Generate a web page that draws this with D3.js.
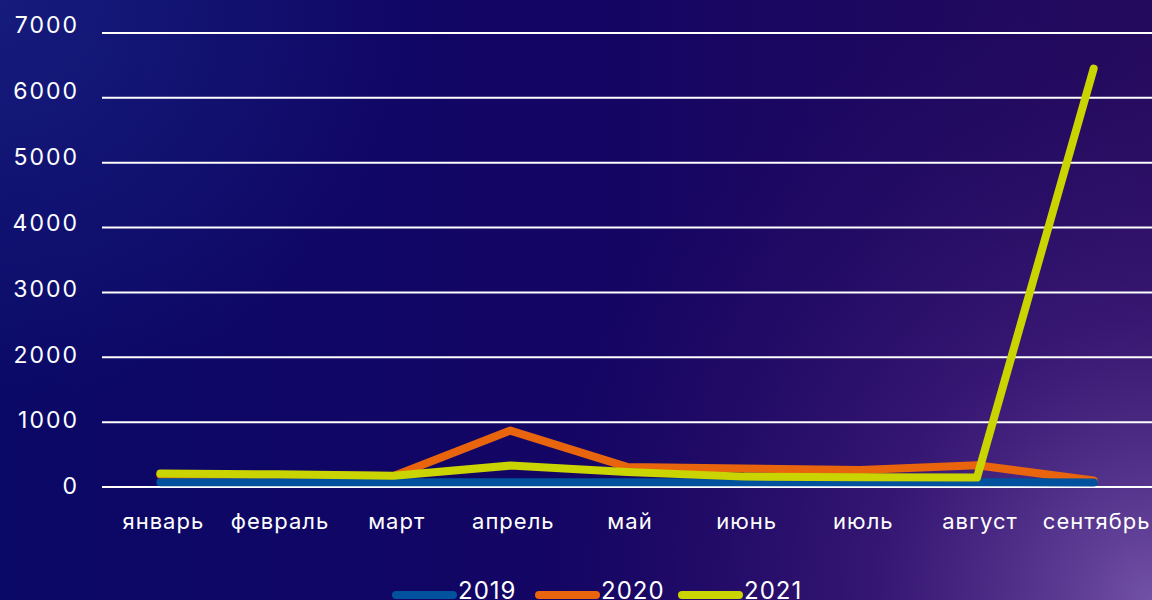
<!DOCTYPE html>
<html>
<head>
<meta charset="utf-8">
<script src="https://cdn.jsdelivr.net/npm/d3@7"></script>
<style>
  html, body { margin: 0; padding: 0; background: #0b0866; }
  svg { display: block; font-family: Inter, "Noto Sans", sans-serif; }
</style>
</head>
<body>
<div id="chart"></div>
<script>
// months on the x axis
const months = ["январь", "февраль", "март", "апрель", "май", "июнь", "июль", "август", "сентябрь"];
const yTicks = [0, 1000, 2000, 3000, 4000, 5000, 6000, 7000];

// values
const values2019 = [75, 75, 75, 75, 75, 75, 75, 75, 70];
const values2020 = [190, 180, 170, 870, 310, 285, 262, 335, 100];
const values2021 = [210, 195, 175, 330, 230, 160, 150, 145, 6450];

const years = ["2019", "2020", "2021"];
const colors = { "2019": "#00519e", "2020": "#e8640d", "2021": "#c9d400" };

const width = 1152, height = 600;
const margin = { top: 33, right: 0, bottom: 113, left: 102 };

const svg = d3.select("#chart").append("svg")
  .attr("width", width)
  .attr("height", height);

// background gradients
const defs = svg.append("defs");
const lin = defs.append("linearGradient").attr("id", "bg").attr("x1", "0").attr("y1", "0").attr("x2", "1").attr("y2", "0");
lin.append("stop").attr("offset", "0%").attr("stop-color", "#0a0866");
lin.append("stop").attr("offset", "50%").attr("stop-color", "#140564");
lin.append("stop").attr("offset", "100%").attr("stop-color", "#240a5c");

const glow = defs.append("radialGradient").attr("id", "glow")
  .attr("gradientUnits", "userSpaceOnUse")
  .attr("cx", width).attr("cy", height).attr("r", 620);
glow.append("stop").attr("offset", "0%").attr("stop-color", "#7252a6").attr("stop-opacity", 1);
glow.append("stop").attr("offset", "45%").attr("stop-color", "#452080").attr("stop-opacity", 0.6);
glow.append("stop").attr("offset", "100%").attr("stop-color", "#2a0d66").attr("stop-opacity", 0);

const corner = defs.append("radialGradient").attr("id", "corner")
  .attr("gradientUnits", "userSpaceOnUse")
  .attr("cx", 0).attr("cy", 0).attr("r", 420);
corner.append("stop").attr("offset", "0%").attr("stop-color", "#161c7c").attr("stop-opacity", 1);
corner.append("stop").attr("offset", "100%").attr("stop-color", "#161c7c").attr("stop-opacity", 0);

svg.append("rect").attr("width", width).attr("height", height).attr("fill", "url(#bg)");
svg.append("rect").attr("width", width).attr("height", height).attr("fill", "url(#corner)");
svg.append("rect").attr("width", width).attr("height", height).attr("fill", "url(#glow)");

// scales
const x = d3.scalePoint()
  .domain(months)
  .range([margin.left, width - margin.right])
  .padding(0.5);

const y = d3.scaleLinear()
  .domain([0, 7000])
  .range([height - margin.bottom, margin.top]);

// tick labels sit a little above the grid lines towards the top
const yLabel = d3.scaleLinear()
  .domain([0, 7000])
  .range([height - margin.bottom - 1, margin.top - 8]);

// grid lines
svg.append("g")
  .selectAll("line")
  .data(yTicks)
  .join("line")
  .attr("x1", margin.left)
  .attr("x2", width)
  .attr("y1", d => y(d))
  .attr("y2", d => y(d))
  .attr("stroke", "#ffffff")
  .attr("stroke-width", 2);

// y labels
svg.append("g")
  .selectAll("text")
  .data(yTicks)
  .join("text")
  .attr("x", 79)
  .attr("y", d => yLabel(d))
  .attr("dy", "0.36em")
  .attr("text-anchor", "end")
  .attr("fill", "#ffffff")
  .style("font-size", "23px")
  .style("letter-spacing", "2px")
  .text(d => d);

// x labels
svg.append("g")
  .selectAll("text")
  .data(months)
  .join("text")
  .attr("x", d => x(d) + 3)
  .attr("y", 529)
  .attr("text-anchor", "middle")
  .attr("fill", "#ffffff")
  .style("font-size", "22px")
  .style("letter-spacing", "1px")
  .text(d => d);

// lines
const line = d3.line()
  .x((d, i) => x(months[i]))
  .y(d => y(d));

const series = [
  { year: "2020", values: values2020 },
  { year: "2019", values: values2019 },
  { year: "2021", values: values2021 }
];

svg.append("g")
  .selectAll("path")
  .data(series)
  .join("path")
  .attr("d", d => line(d.values))
  .attr("fill", "none")
  .attr("stroke", d => colors[d.year])
  .attr("stroke-width", 8)
  .attr("stroke-linecap", "round")
  .attr("stroke-linejoin", "round");

// legend
const legend = svg.append("g").attr("transform", "translate(396,595)");
const item = legend.selectAll("g")
  .data(years)
  .join("g")
  .attr("transform", (d, i) => `translate(${i * 143},0)`);

item.append("line")
  .attr("x1", 0)
  .attr("x2", 57)
  .attr("stroke", d => colors[d])
  .attr("stroke-width", 8)
  .attr("stroke-linecap", "round");

item.append("text")
  .attr("x", 62)
  .attr("y", 4)
  .attr("fill", "#ffffff")
  .style("font-size", "24px")
  .style("letter-spacing", "1px")
  .text(d => d);
</script>
</body>
</html>
